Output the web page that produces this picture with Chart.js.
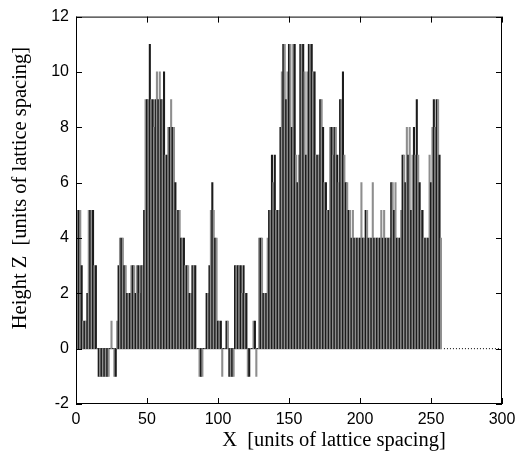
<!DOCTYPE html>
<html>
<head>
<meta charset="utf-8">
<script src="https://cdn.jsdelivr.net/npm/chart.js@4/dist/chart.umd.min.js"></script>
<style>
  body { margin: 0; background: #fff; }
  canvas { display: block; }
</style>
</head>
<body>
<canvas id="surfaceChart" width="527" height="457"></canvas>
<script>
// surface height at each lattice site x = 0, 1, 2, ...
const heights = [
    4, 5, 5, 5, 3, 1, 1, 1, 2, 5,
    5, 5, 5, 3, 3, 0, -1, -1, -1, -1,
    -1, -1, -1, -1, 0, 1, 0, -1, -1, 1,
    3, 4, 4, 4, 3, 3, 2, 2, 2, 3,
    3, 3, 2, 3, 3, 2, 3, 3, 5, 9,
    9, 9, 11, 9, 9, 8, 9, 10, 9, 10,
    9, 9, 10, 7, 7, 8, 8, 9, 8, 8,
    6, 5, 5, 5, 4, 4, 4, 3, 3, 3,
    2, 2, 3, 3, 3, 0, 0, -1, -1, -1,
    0, 0, 2, 2, 3, 5, 6, 5, 4, 4,
    1, 1, 1, -1, 0, 0, 1, 1, -1, -1,
    -1, -1, 3, 3, 3, 3, 3, 2, 3, 2,
    2, -1, -1, 0, 0, 1, 1, -1, 0, 4,
    4, 4, 2, 2, 2, 4, 5, 5, 7, 6,
    7, 5, 5, 5, 8, 10, 11, 11, 9, 10,
    11, 11, 8, 11, 11, 7, 6, 7, 11, 11,
    11, 10, 7, 10, 11, 11, 11, 10, 10, 7,
    7, 7, 9, 9, 8, 6, 6, 5, 5, 8,
    8, 7, 8, 8, 7, 6, 9, 9, 10, 7,
    6, 6, 5, 5, 4, 5, 4, 4, 4, 4,
    4, 6, 4, 4, 5, 5, 4, 4, 4, 6,
    4, 4, 4, 4, 4, 5, 4, 5, 4, 4,
    4, 4, 6, 6, 5, 6, 4, 4, 4, 5,
    7, 7, 6, 8, 7, 8, 5, 7, 8, 7,
    9, 7, 6, 5, 5, 4, 4, 4, 4, 7,
    6, 8, 9, 8, 9, 9, 7, 4
];
const xTicks = [0, 50, 100, 150, 200, 250, 300];
const yTicks = [-2, 0, 2, 4, 6, 8, 10, 12];
const surfaceEnd = 257; // last occupied site
const xMax = 300;

const xTitle = 'X  [units of lattice spacing]';
const yTitle = 'Height Z  [units of lattice spacing]';

// rahmen + ticks nach innen, wie gnuplot
const framePlugin = {
    id: 'frameTicks',
    afterDraw(chart) {
        const { ctx, chartArea: a, scales } = chart;
        ctx.save();
        ctx.strokeStyle = '#000';
        ctx.lineWidth = 1;
        ctx.strokeRect(a.left + 0.5, a.top + 0.5, a.right - a.left - 1, a.bottom - a.top - 1);
        ctx.beginPath();
        xTicks.forEach(v => {
            const px = Math.round(scales.x.getPixelForValue(v)) + 0.5;
            ctx.moveTo(px, a.bottom); ctx.lineTo(px, a.bottom - 6);
            ctx.moveTo(px, a.top); ctx.lineTo(px, a.top + 6);
        });
        yTicks.forEach(v => {
            const py = Math.round(scales.y.getPixelForValue(v)) + 0.5;
            ctx.moveTo(a.left, py); ctx.lineTo(a.left + 6, py);
            ctx.moveTo(a.right, py); ctx.lineTo(a.right - 6, py);
        });
        ctx.stroke();

        ctx.fillStyle = '#000';
        ctx.font = '20.5px "Liberation Serif", "Times New Roman", serif';
        ctx.textAlign = 'center';
        ctx.textBaseline = 'middle';
        ctx.fillText(xTitle, 334, 441);
        ctx.translate(21, 188);
        ctx.rotate(-Math.PI / 2);
        ctx.fillText(yTitle, 0, 0);
        ctx.restore();
    }
};

const ctx = document.getElementById('surfaceChart').getContext('2d');
new Chart(ctx, {
    type: 'bar',
    data: {
        datasets: [
            {
                type: 'line',
                data: [{ x: 0, y: 0 }, { x: surfaceEnd, y: 0 }],
                borderColor: '#000',
                borderWidth: 1,
                pointRadius: 0,
                order: 2
            },
            {
                type: 'line',
                data: [{ x: surfaceEnd, y: 0 }, { x: xMax, y: 0 }],
                borderColor: '#000',
                borderWidth: 1,
                borderDash: [1, 2],
                pointRadius: 0,
                order: 2
            },
            {
                data: heights.map((h, i) => ({ x: i, y: h })),
                backgroundColor: heights.map((h, i) => i % 2 ? '#8e8e8e' : '#1c1c1c'),
                borderWidth: 0,
                barPercentage: 1,
                categoryPercentage: 1,
                order: 1
            }
        ]
    },
    options: {
        responsive: false,
        animation: false,
        layout: { padding: { top: 14, right: 25, left: 0, bottom: 0 } },
        plugins: {
            legend: { display: false },
            tooltip: { enabled: false }
        },
        scales: {
            x: {
                type: 'linear',
                min: 0,
                max: xMax,
                offset: false,
                grid: { display: false, drawTicks: false, offset: false },
                border: { display: false },
                afterBuildTicks: s => { s.ticks = xTicks.map(v => ({ value: v })); },
                afterFit: s => { s.height = 53; },
                ticks: {
                    padding: 6,
                    maxRotation: 0,
                    color: '#000',
                    font: { family: '"Liberation Sans", Arial, sans-serif', size: 16 }
                }
            },
            y: {
                min: -2,
                max: 12,
                grid: { display: false, drawTicks: false },
                border: { display: false },
                afterBuildTicks: s => { s.ticks = yTicks.map(v => ({ value: v })); },
                afterFit: s => { s.width = 76; },
                ticks: {
                    padding: 7,
                    color: '#000',
                    font: { family: '"Liberation Sans", Arial, sans-serif', size: 16 }
                }
            }
        }
    },
    plugins: [framePlugin]
});
</script>
</body>
</html>
